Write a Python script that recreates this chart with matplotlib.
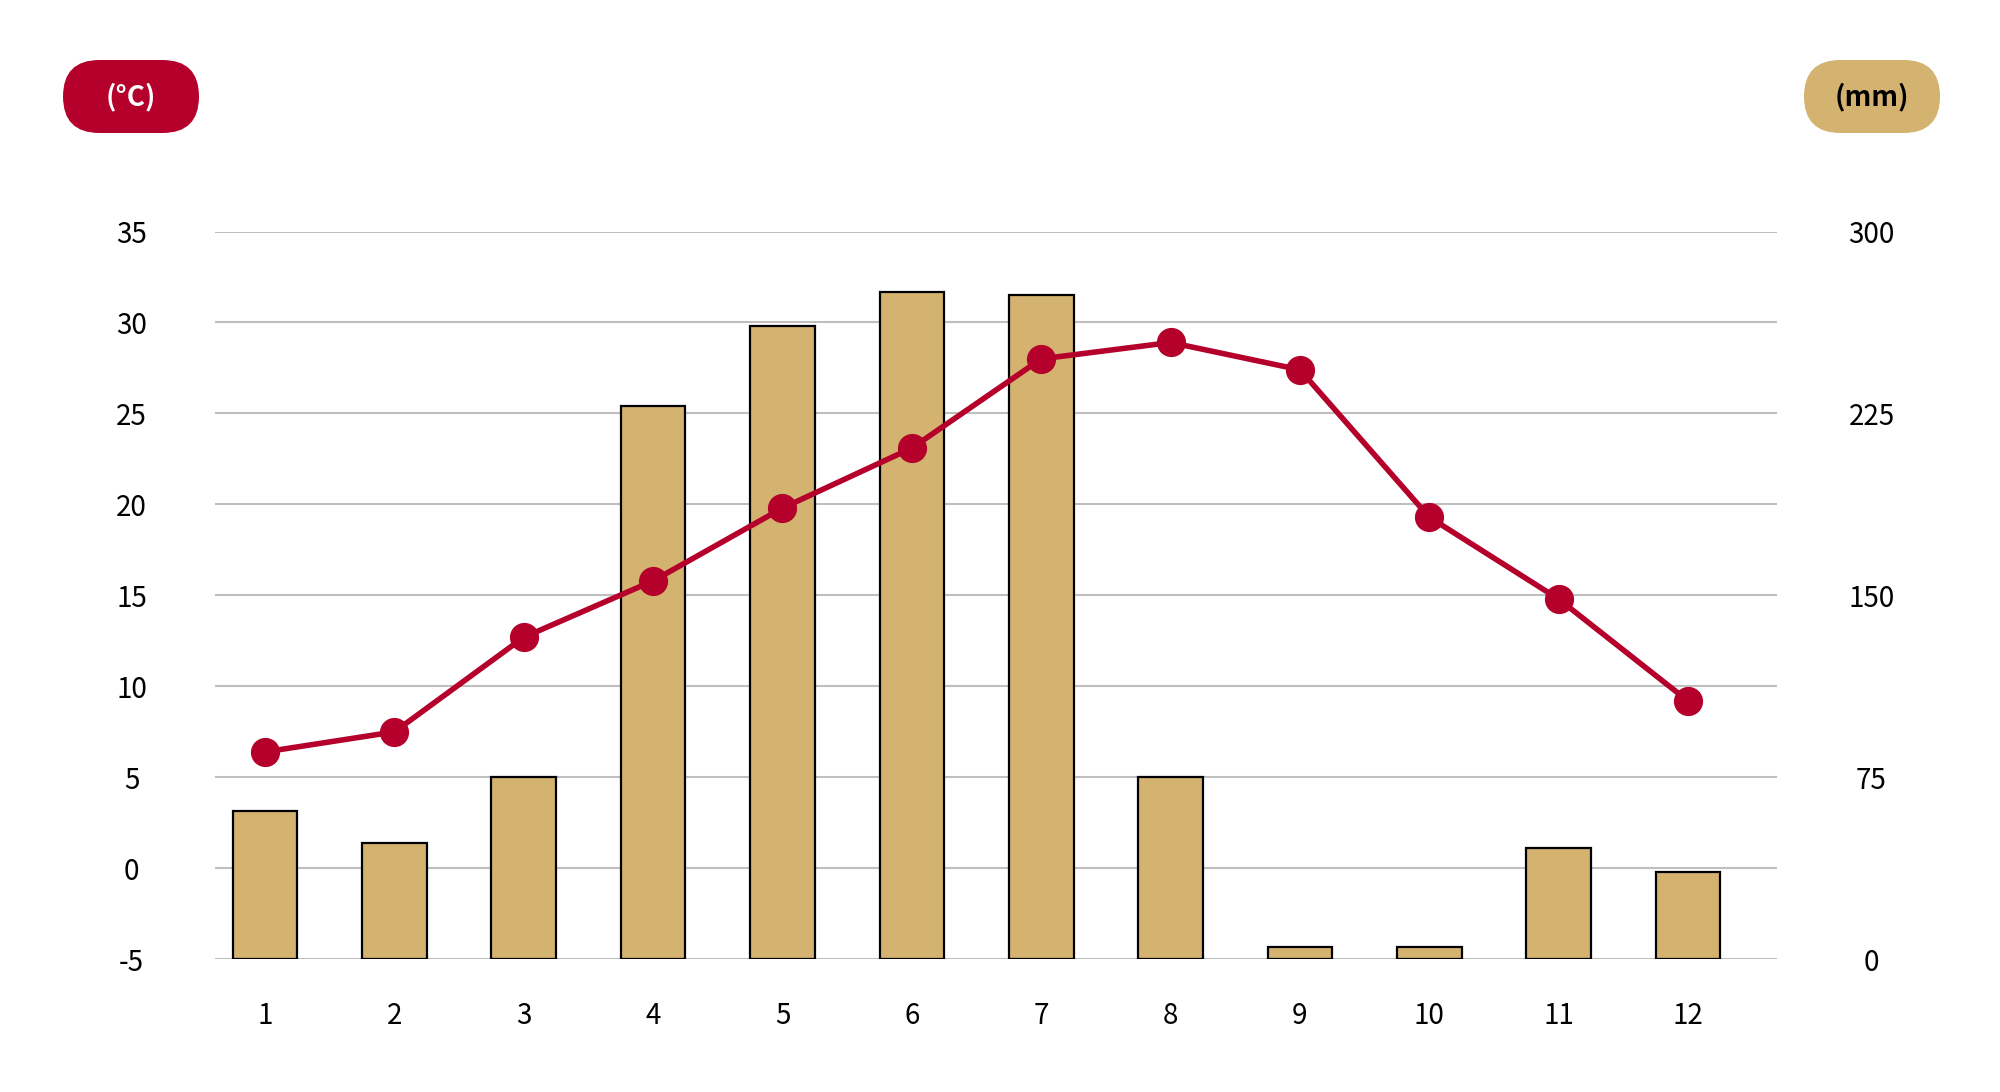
import matplotlib.pyplot as plt
import numpy as np
from matplotlib.patches import FancyBboxPatch
from matplotlib.transforms import IdentityTransform

plt.rcParams['font.family'] = ['Noto Sans CJK JP', 'DejaVu Sans']

# Data
months = np.arange(1, 13)
month_labels = [str(m) for m in months]
temperature = [6.4, 7.5, 12.7, 15.8, 19.8, 23.1, 28.0, 28.9, 27.4, 19.3, 14.8, 9.2]
precipitation = [61, 48, 75, 228, 261, 275, 274, 75, 5, 5, 46, 36]
temp_ticks = np.arange(-5, 36, 5)
rain_ticks = np.arange(0, 301, 75)

red = "#B4002A"
gold = "#D4B26F"
grid_c = "#BFBFBF"

fig = plt.figure(figsize=(20, 10.92), dpi=100)
ax = fig.add_axes([0.1075, 0.1215, 0.7810, 0.6665])
ax2 = ax.twinx()

# bars on the right (mm) axis, kept underneath the temperature line
ax2.bar(months, precipitation, width=0.5, color=gold, edgecolor="black",
        linewidth=1.6, zorder=3)
ax2.set_ylim(0, 300)
ax2.set_yticks(rain_ticks)
ax2.set_yticks(np.arange(0, 301, 37.5), minor=True)
ax2.grid(True, which="both", axis="y", color=grid_c, linewidth=1.5, zorder=0)
ax2.set_axisbelow(True)
ax2.tick_params(axis="y", which="both", length=0, labelsize=20, pad=68)
for lbl in ax2.get_yticklabels():
    lbl.set_horizontalalignment("center")

ax.set_zorder(ax2.get_zorder() + 1)
ax.patch.set_visible(False)
ax.plot(months, temperature, color=red, linewidth=4, marker="o",
        markersize=20, zorder=5)
ax.set_ylim(-5, 35)
ax.set_yticks(temp_ticks)
ax.set_yticklabels([str(t) for t in temp_ticks])
ax.set_xlim(0.613, 12.688)
ax.set_xticks(months)
ax.set_xticklabels(month_labels)
ax.tick_params(axis="y", length=0, labelsize=20, pad=60)
ax.tick_params(axis="x", length=0, labelsize=20, pad=30)
for lbl in ax.get_yticklabels():
    lbl.set_horizontalalignment("center")

for a in (ax, ax2):
    for s in a.spines.values():
        s.set_visible(False)

# unit badges
H = 1092
for x0, txt, fc, tc in [(63, "(°C)", red, "white"), (1804, "(mm)", gold, "black")]:
    box = FancyBboxPatch((x0, H - 133), 136, 73,
                         boxstyle="round,pad=0,rounding_size=36.5",
                         transform=IdentityTransform(), facecolor=fc,
                         edgecolor="none")
    fig.patches.append(box)
    fig.text((x0 + 68) / 2000, (H - 96.5) / H, txt, color=tc, fontsize=20,
             fontweight="bold", ha="center", va="center")

fig.savefig("out.png", dpi=100)
